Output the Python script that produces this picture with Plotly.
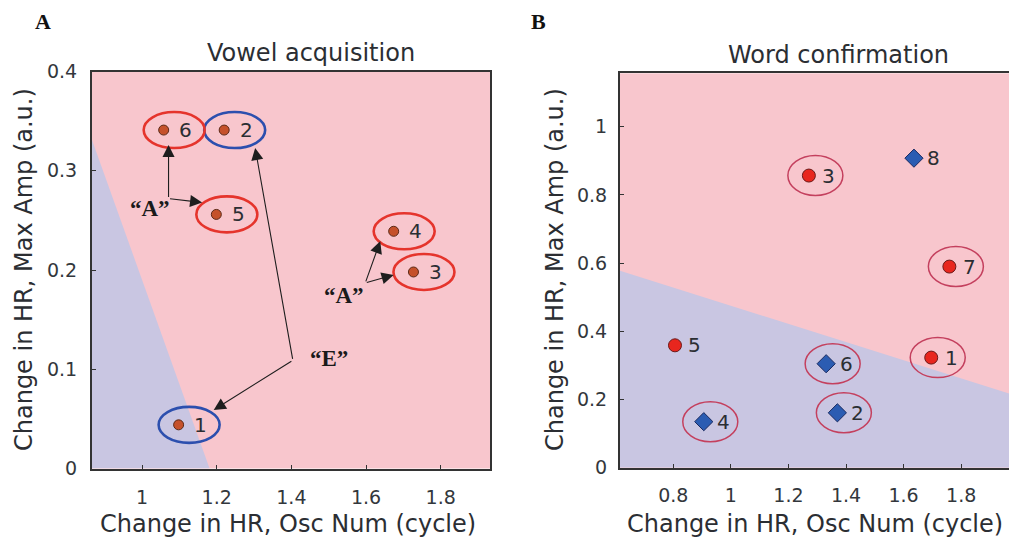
import plotly.graph_objects as go

# page is drawn with an 8px body margin -> figure slightly smaller than window
OFF = 8
W, H = 1017 - OFF, 546 - OFF


def px(x):
    return (x - OFF) / W


def py(y):
    return 1 - (y - OFF) / H


# ---------------- Panel A: Vowel acquisition ----------------
a_ids = ["1", "2", "3", "4", "5", "6"]
a_x = [1.098, 1.220, 1.727, 1.674, 1.199, 1.058]
a_y = [0.044, 0.341, 0.198, 0.239, 0.256, 0.341]
a_ring = ["blue", "blue", "red", "red", "red", "red"]
a_xrange = [0.866, 1.932]
a_yrange = [0.0, 0.4]
a_xticks = [1, 1.2, 1.4, 1.6, 1.8]
a_yticks = [0, 0.1, 0.2, 0.3, 0.4]
a_boundary_x = [0.866, 1.181]
a_boundary_y = [0.331, 0.0]

# arrows (tail -> head) and quoted labels in panel A
arr_tail_x = [1.071, 1.071, 1.598, 1.598, 1.404, 1.404]
arr_tail_y = [0.272, 0.272, 0.187, 0.187, 0.109, 0.109]
arr_head_x = [1.071, 1.161, 1.638, 1.674, 1.303, 1.192]
arr_head_y = [0.326, 0.268, 0.229, 0.195, 0.323, 0.059]
q_text = ["\u201cA\u201d", "\u201cA\u201d", "\u201cE\u201d"]
q_x = [1.022, 1.540, 1.500]
q_y = [0.262, 0.174, 0.1105]

# ---------------- Panel B: Word confirmation ----------------
b_ids = ["1", "2", "3", "4", "5", "6", "7", "8"]
b_x = [1.696, 1.370, 1.271, 0.906, 0.806, 1.331, 1.759, 1.636]
b_y = [0.323, 0.161, 0.857, 0.135, 0.359, 0.305, 0.590, 0.908]
b_kind = ["circle", "diamond", "circle", "diamond", "circle", "diamond", "circle", "diamond"]
b_ringed = [True, True, True, True, False, True, True, False]
b_xrange = [0.615, 1.98]
b_yrange = [0.0, 1.157]
b_xticks = [0.8, 1, 1.2, 1.4, 1.6, 1.8]
b_yticks = [0, 0.2, 0.4, 0.6, 0.8, 1]
b_boundary_x = [0.615, 1.98]
b_boundary_y = [0.578, 0.214]

PINK = "#f8c6cd"
LAV = "#c9c6e2"
TXT = "#2b2e33"
FONT = "DejaVu Sans"
SERIF = "Liberation Serif"

fig = go.Figure()

# blue decision regions
fig.add_trace(go.Scatter(
    x=[a_boundary_x[0], a_boundary_x[0], a_boundary_x[1]],
    y=[a_yrange[0], a_boundary_y[0], a_boundary_y[1]],
    fill="toself", fillcolor=LAV, mode="lines", line=dict(width=0, color=LAV),
    hoverinfo="skip", showlegend=False, xaxis="x", yaxis="y"))
fig.add_trace(go.Scatter(
    x=[b_boundary_x[0], b_boundary_x[0], b_boundary_x[1], b_boundary_x[1]],
    y=[b_yrange[0], b_boundary_y[0], b_boundary_y[1], b_yrange[0]],
    fill="toself", fillcolor=LAV, mode="lines", line=dict(width=0, color=LAV),
    hoverinfo="skip", showlegend=False, xaxis="x2", yaxis="y2"))

# points
fig.add_trace(go.Scatter(
    x=a_x, y=a_y, mode="markers", showlegend=False, xaxis="x", yaxis="y",
    marker=dict(symbol="circle", size=10, color="#c5512b",
                line=dict(color="#5b2a18", width=1))))
for kind, col, edge, sz in [("circle", "#e8261e", "#6a1a1a", 13),
                            ("diamond", "#2b5cb2", "#1a2a60", 14)]:
    xs = [x for x, k in zip(b_x, b_kind) if k == kind]
    ys = [y for y, k in zip(b_y, b_kind) if k == kind]
    fig.add_trace(go.Scatter(
        x=xs, y=ys, mode="markers", showlegend=False, xaxis="x2", yaxis="y2",
        marker=dict(symbol=kind, size=sz, color=col, line=dict(color=edge, width=1))))

shapes = []
annots = []

ring_col = {"red": "#e5342c", "blue": "#2c4fae"}
for i, x, y, r in zip(a_ids, a_x, a_y, a_ring):
    shapes.append(dict(type="circle", xref="x", yref="y",
                       xsizemode="pixel", ysizemode="pixel",
                       xanchor=x, yanchor=y, x0=-20, x1=41, y0=-18, y1=18,
                       line=dict(color=ring_col[r], width=2.6)))
    annots.append(dict(x=x, y=y, xref="x", yref="y", text=i, showarrow=False,
                       xshift=22, font=dict(family=FONT, size=20, color=TXT)))

for i, x, y, rg in zip(b_ids, b_x, b_y, b_ringed):
    if rg:
        shapes.append(dict(type="circle", xref="x2", yref="y2",
                           xsizemode="pixel", ysizemode="pixel",
                           xanchor=x, yanchor=y, x0=-21, x1=34, y0=-20, y1=20,
                           line=dict(color="#c4405e", width=1.5)))
    annots.append(dict(x=x, y=y, xref="x2", yref="y2", text=i, showarrow=False,
                       xshift=20, font=dict(family=FONT, size=20, color=TXT)))

for tx, ty, hx, hy in zip(arr_tail_x, arr_tail_y, arr_head_x, arr_head_y):
    annots.append(dict(x=hx, y=hy, ax=tx, ay=ty, xref="x", yref="y",
                       axref="x", ayref="y", text="", showarrow=True,
                       arrowhead=2, arrowsize=2.2, arrowwidth=1.1,
                       arrowcolor="#1e1e1e", standoff=0, startstandoff=0))

for t, x, y in zip(q_text, q_x, q_y):
    annots.append(dict(x=x, y=y, xref="x", yref="y", text="<b>%s</b>" % t,
                       showarrow=False,
                       font=dict(family=SERIF, size=23, color="#1a1a1a")))


def ptext(x, y, text, size, family=FONT, color=TXT, angle=0, yanchor="middle"):
    annots.append(dict(x=px(x), y=py(y), xref="paper", yref="paper", text=text,
                       showarrow=False, xanchor="center", yanchor=yanchor,
                       borderpad=0, textangle=angle,
                       font=dict(family=family, size=size, color=color)))


# panel letters, titles and axis titles
ptext(43, OFF, "<b>A</b>", 22, SERIF, "#111", yanchor="top")
ptext(538, OFF, "<b>B</b>", 22, SERIF, "#111", yanchor="top")
ptext(311, 53, "Vowel acquisition", 24)
ptext(838, 55, "Word confirmation", 24)
ptext(288, 524, "Change in HR, Osc Num (cycle)", 24)
ptext(815, 524, "Change in HR, Osc Num (cycle)", 24)
ptext(24, 270, "Change in HR, Max Amp (a.u.)", 24, angle=-90)
ptext(555, 270, "Change in HR, Max Amp (a.u.)", 24, angle=-90)

axis_common = dict(showgrid=False, zeroline=False, showline=True, mirror=True,
                   linecolor="#333333", linewidth=2, ticks="inside", ticklen=4,
                   tickcolor="#333333", automargin=False,
                   tickfont=dict(family=FONT, size=19, color="#33373c"))

fig.update_layout(
    width=W, height=H, autosize=False,
    margin=dict(l=0, r=0, t=0, b=0, pad=0),
    paper_bgcolor="white", plot_bgcolor=PINK,
    font=dict(family=FONT, color=TXT),
    shapes=shapes, annotations=annots,
    xaxis=dict(domain=[px(92), px(490)], range=a_xrange, tickvals=a_xticks,
               anchor="y", ticklabelstandoff=11, **axis_common),
    yaxis=dict(domain=[py(468.5), py(71.5)], range=a_yrange, tickvals=a_yticks,
               anchor="x", ticklabelstandoff=9, **axis_common),
    xaxis2=dict(domain=[px(620), px(1013)], range=b_xrange, tickvals=b_xticks,
                anchor="y2", ticklabelstandoff=9, **axis_common),
    yaxis2=dict(domain=[py(467.7), py(73.3)], range=b_yrange, tickvals=b_yticks,
                anchor="x2", ticklabelstandoff=7, **axis_common),
)

fig.write_html("out.html")
